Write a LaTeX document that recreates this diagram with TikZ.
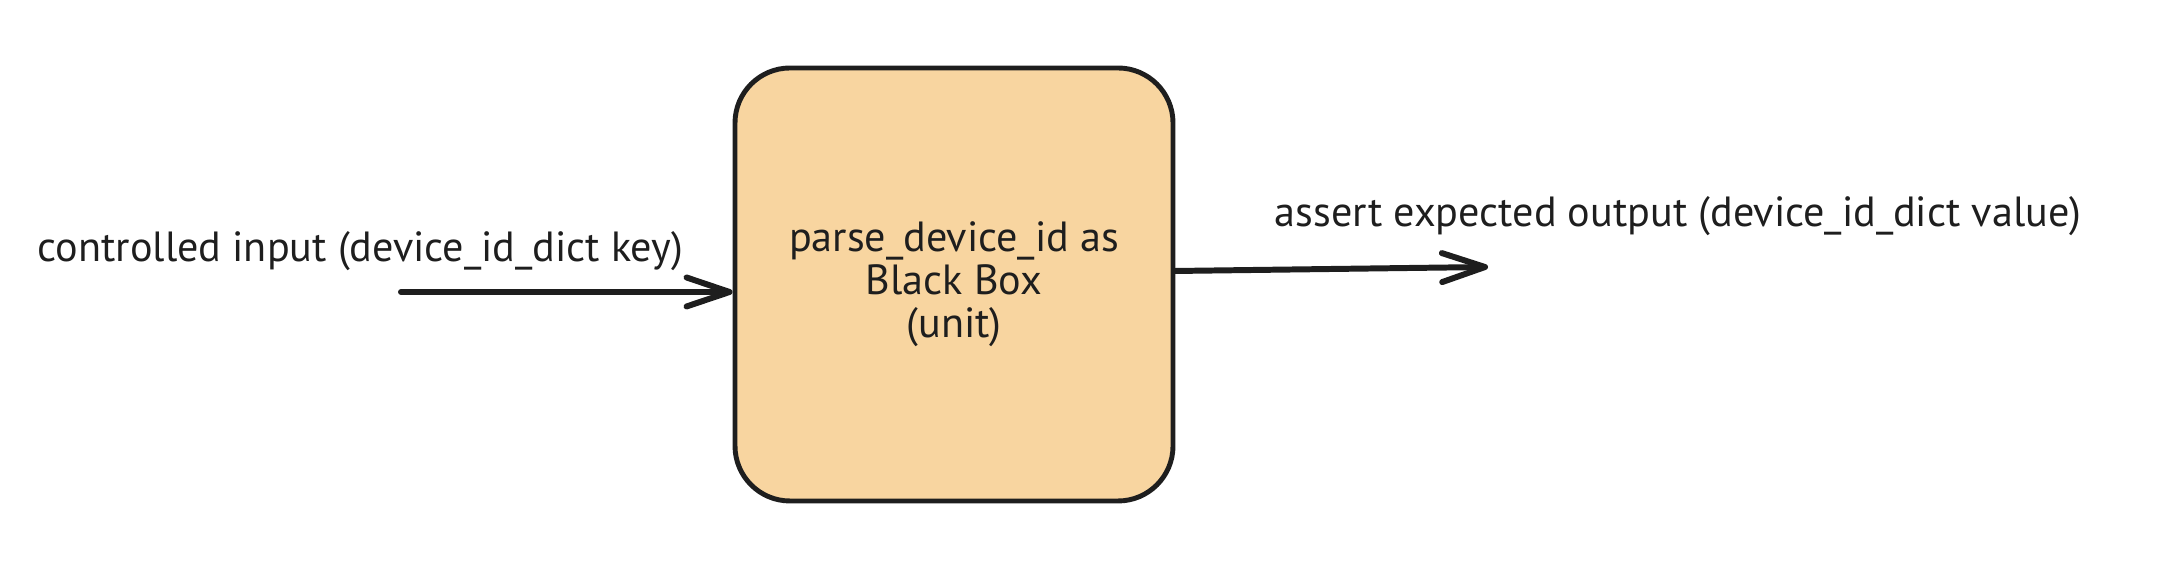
\documentclass[tikz,border=0pt]{standalone}
\usepackage{fontspec}
\setmainfont{PT Sans}
\usetikzlibrary{positioning,arrows.meta}

\definecolor{boxFill}{HTML}{F8D5A0}
\definecolor{ink}{HTML}{1E1E1E}

\begin{document}
\begin{tikzpicture}[%
    blackBox/.style={%
        draw=ink,
        fill=boxFill,
        line width=1.4pt,
        rounded corners=0.55cm,
        minimum width=4.38cm,
        minimum height=4.33cm,
        align=center,
        text=ink,
        font=\fontsize{12pt}{12.2pt}\selectfont
    },
    ioLabel/.style={%
        anchor=base west,
        inner sep=0pt,
        text=ink,
        font=\fontsize{12pt}{12.2pt}\selectfont
    },
    flow/.style={%
        ->,
        draw=ink,
        line width=1.7pt,
        line cap=round,
        line join=round
    },
    >={Straight Barb[length=4.3mm,width=2.9mm,line cap=round,line join=round]}
]

\useasboundingbox (0,0) rectangle (21.6,5.7);

% Unit under test
\node[blackBox] (box) at (9.54,2.855) {parse\_device\_id as\\Black Box\\(unit)};

% Input
\coordinate (inStart) at (4.01,2.78);
\node[ioLabel] (inLabel) at (0.37,3.08) {controlled input (device\_id\_dict key)};

% Output
\coordinate (outEnd) at (14.88,3.03);
\node[ioLabel] (outLabel) at (12.74,3.43) {assert expected output (device\_id\_dict value)};

% Arrows
\draw[flow] (inStart) -- (inStart -| box.west);
\draw[flow] ([yshift=1.35mm]box.east) -- (outEnd);

\end{tikzpicture}
\end{document}
